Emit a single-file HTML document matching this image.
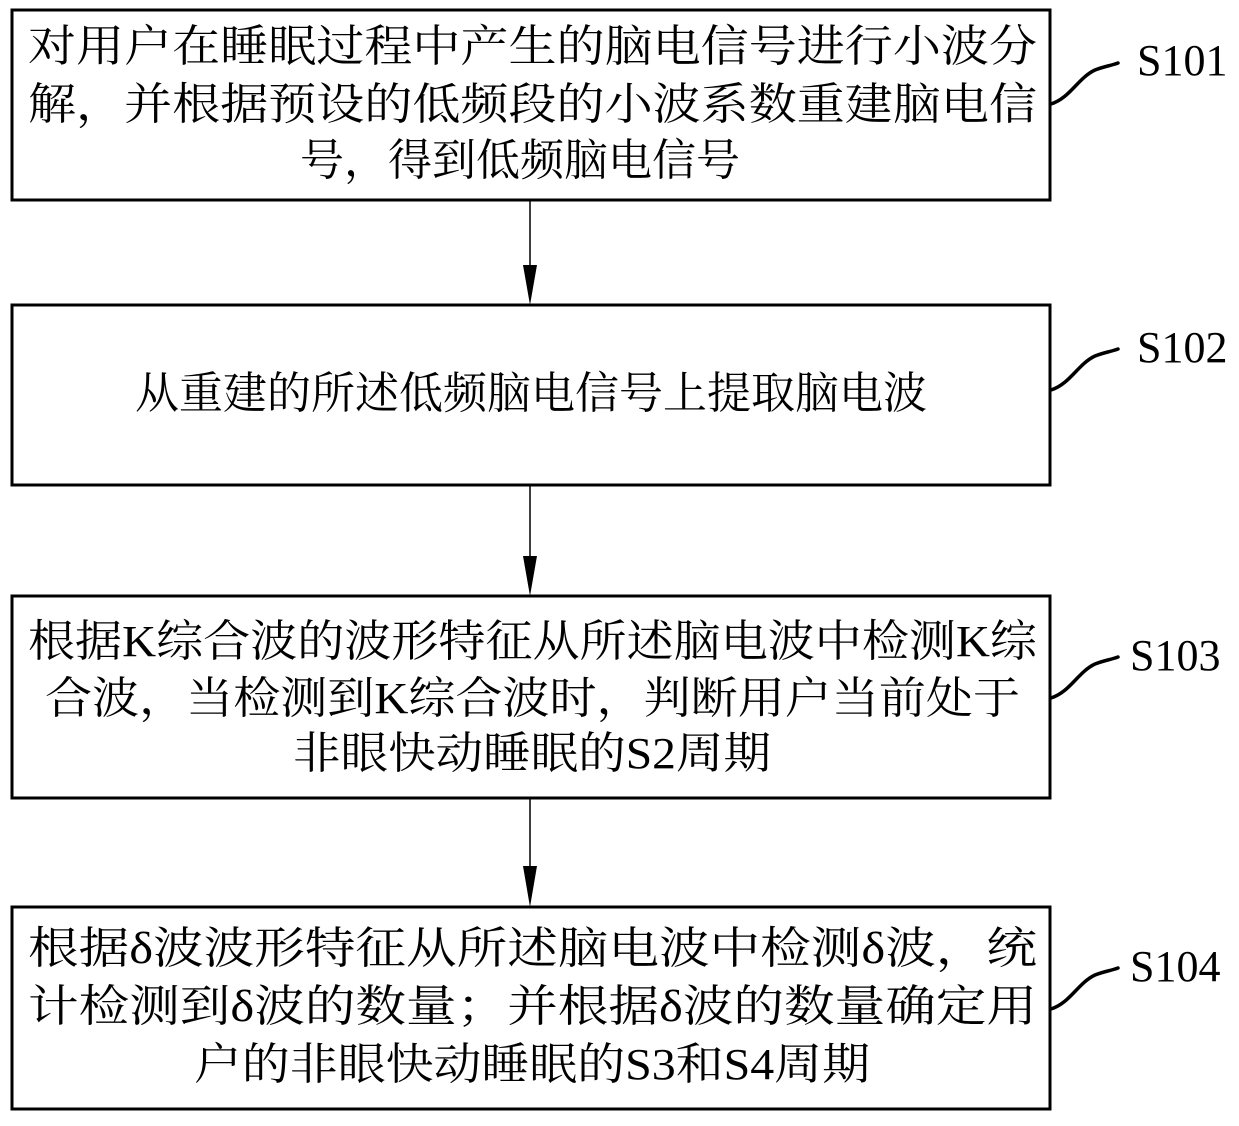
<!DOCTYPE html>
<html><head><meta charset="utf-8"><style>
html,body{margin:0;padding:0;background:#fff;}
svg text{font-family:"Liberation Serif","Noto Serif CJK SC",serif;fill:#000;}
</style></head><body>
<svg width="1239" height="1121" viewBox="0 0 1239 1121" xmlns="http://www.w3.org/2000/svg">
<g fill="none" stroke="#000" stroke-width="3">
<rect x="12" y="10" width="1038" height="190"/>
<rect x="12" y="305" width="1038" height="180"/>
<rect x="12" y="596" width="1038" height="202"/>
<rect x="12" y="907" width="1038" height="202"/>
</g>
<g stroke="#000" stroke-width="1.5">
<line x1="530" y1="200" x2="530" y2="270"/>
<line x1="530" y1="485" x2="530" y2="560"/>
<line x1="530" y1="798" x2="530" y2="870"/>
</g>
<g fill="#000">
<polygon points="523,265 537,265 530,305"/>
<polygon points="523,556 537,556 530,596"/>
<polygon points="523,866 537,866 530,907"/>
</g>
<g fill="none" stroke="#000" stroke-width="3.5" stroke-linecap="round">
<path d="M1051,104 C1070,98 1078,78 1095,70 C1105,66 1110,66 1118,63"/>
<path d="M1051,390 C1070,384 1078,364 1095,356 C1105,352 1110,352 1118,349"/>
<path d="M1051,698 C1070,692 1078,672 1095,664 C1105,660 1110,660 1118,657"/>
<path d="M1051,1009 C1070,1003 1078,983 1095,975 C1105,971 1110,971 1118,968"/>
</g>
<g font-size="44">
<text x="1137" y="75">S101</text>
<text x="1137" y="362">S102</text>
<text x="1130" y="670">S103</text>
<text x="1130" y="981">S104</text>
</g>
<g font-size="44">
<text x="28" y="61" textLength="1009" lengthAdjust="spacingAndGlyphs">对用户在睡眠过程中产生的脑电信号进行小波分</text>
<text x="28" y="119" textLength="1009" lengthAdjust="spacingAndGlyphs">解，并根据预设的低频段的小波系数重建脑电信</text>
<text x="300" y="175">号，得到低频脑电信号</text>
<text x="531" y="408" text-anchor="middle">从重建的所述低频脑电信号上提取脑电波</text>
<text x="28" y="656" textLength="1009" lengthAdjust="spacingAndGlyphs">根据K综合波的波形特征从所述脑电波中检测K综</text>
<text x="45" y="713" textLength="975" lengthAdjust="spacingAndGlyphs">合波，当检测到K综合波时，判断用户当前处于</text>
<text x="293" y="768" textLength="478" lengthAdjust="spacingAndGlyphs">非眼快动睡眠的S2周期</text>
<text x="28" y="963" textLength="1009" lengthAdjust="spacingAndGlyphs">根据δ波波形特征从所述脑电波中检测δ波，统</text>
<text x="28" y="1021" textLength="1009" lengthAdjust="spacingAndGlyphs">计检测到δ波的数量；并根据δ波的数量确定用</text>
<text x="194" y="1079" textLength="676" lengthAdjust="spacingAndGlyphs">户的非眼快动睡眠的S3和S4周期</text>
</g>
</svg>
</body></html>
